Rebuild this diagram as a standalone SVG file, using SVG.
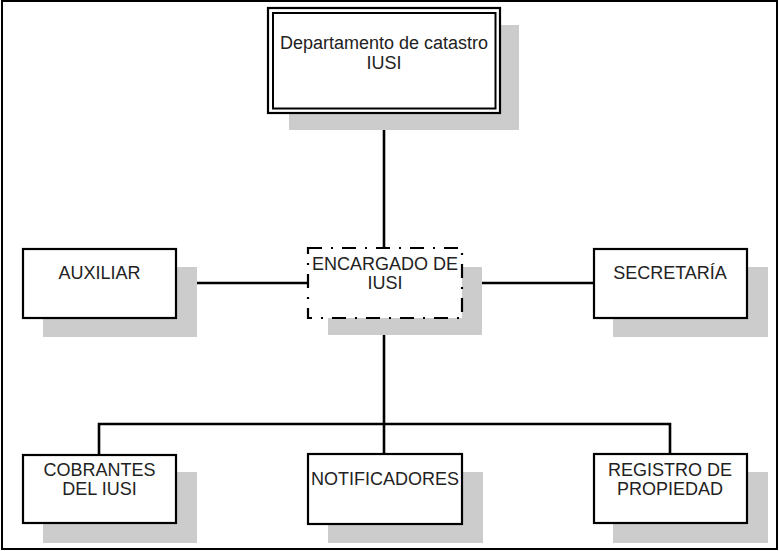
<svg xmlns="http://www.w3.org/2000/svg" width="779" height="551" viewBox="0 0 779 551">
  <style>
    .shadow { fill: #cccccc; stroke: none; }
    .box { fill: #ffffff; stroke: #000000; stroke-width: 2.2; }
    .dbl { fill: none; stroke: #000000; stroke-width: 2; }
    .dashbox { fill: #ffffff; stroke: #000000; stroke-width: 2.2; stroke-dasharray: 14 9 2 9; }
    .wire { fill: none; stroke: #000000; stroke-width: 2.6; }
    .label { font-family: "Liberation Sans", Arial, sans-serif; font-size: 18px; fill: #222222; text-anchor: middle; }
  </style>

  <!-- outer frame -->
  <rect x="2" y="1" width="775" height="548" fill="#ffffff" stroke="#000000" stroke-width="2"/>

  <!-- connectors -->
  <g id="connectors">
    <line class="wire" x1="384" y1="113" x2="384" y2="248"/>
    <line class="wire" x1="176" y1="283" x2="308" y2="283"/>
    <line class="wire" x1="462" y1="283" x2="594" y2="283"/>
    <line class="wire" x1="384" y1="318" x2="384" y2="424"/>
    <polyline class="wire" points="99,455 99,424 670,424 670,454"/>
    <line class="wire" x1="384" y1="424" x2="384" y2="454"/>
  </g>

  <!-- head of department -->
  <g id="departamento">
    <rect class="shadow" x="289" y="25" width="230" height="105"/>
    <rect x="268" y="8" width="232" height="105" fill="#ffffff" stroke="#000000" stroke-width="2.2"/>
    <rect class="dbl" x="273" y="13" width="222.5" height="95.5"/>
    <text class="label" x="384" y="49">Departamento de catastro</text>
    <text class="label" x="384" y="69">IUSI</text>
  </g>

  <!-- person in charge -->
  <g id="encargado">
    <rect class="shadow" x="328" y="267" width="154" height="68"/>
    <rect class="dashbox" x="308" y="248" width="154" height="70"/>
    <text class="label" x="385" y="270">ENCARGADO DE</text>
    <text class="label" x="385" y="289">IUSI</text>
  </g>

  <g id="auxiliar">
    <rect class="shadow" x="43" y="267" width="154" height="70"/>
    <rect class="box" x="23" y="249" width="153" height="69"/>
    <text class="label" x="99.5" y="279">AUXILIAR</text>
  </g>

  <g id="secretaria">
    <rect class="shadow" x="613" y="267" width="155" height="70"/>
    <rect class="box" x="594" y="249" width="153" height="69"/>
    <text class="label" x="670" y="279">SECRETARÍA</text>
  </g>

  <g id="cobrantes">
    <rect class="shadow" x="43" y="472" width="154" height="71"/>
    <rect class="box" x="23" y="455" width="153" height="68"/>
    <text class="label" x="99.5" y="476">COBRANTES</text>
    <text class="label" x="99.5" y="495">DEL IUSI</text>
  </g>

  <g id="notificadores">
    <rect class="shadow" x="328" y="472" width="155" height="71"/>
    <rect class="box" x="308" y="454" width="154" height="70"/>
    <text class="label" x="385" y="485">NOTIFICADORES</text>
  </g>

  <g id="registro">
    <rect class="shadow" x="613" y="472" width="155" height="71"/>
    <rect class="box" x="594" y="454" width="153" height="69"/>
    <text class="label" x="670" y="476">REGISTRO DE</text>
    <text class="label" x="670" y="495">PROPIEDAD</text>
  </g>
</svg>
